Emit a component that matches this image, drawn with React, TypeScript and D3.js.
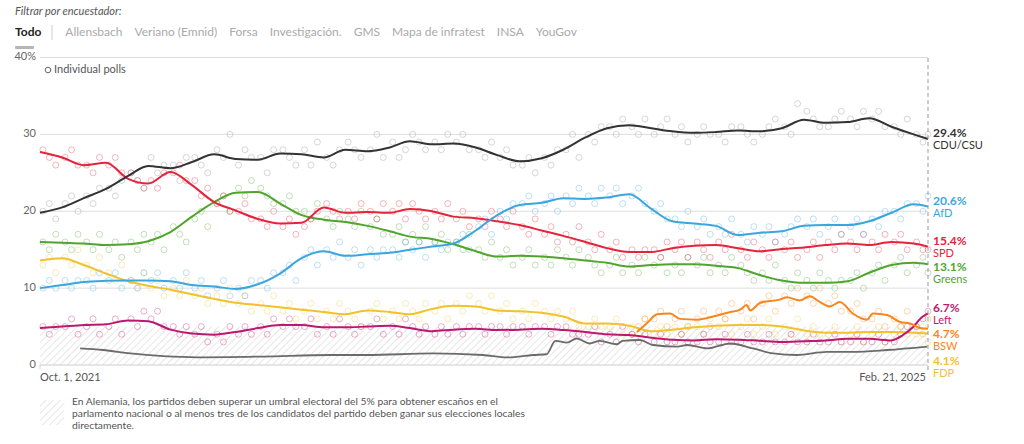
import React from 'react';
import * as d3 from 'd3';

const W = 1024;
const H = 444;
const FONT = 'Lato, "Open Sans", sans-serif';

const parseDate = d3.timeParse('%Y-%m-%d');
const startDate = parseDate('2021-10-01') as Date;
const endDate = parseDate('2025-02-21') as Date;
// Oct 2021 .. Feb 2025, one entry per month
const months = d3.timeMonth.range(startDate, parseDate('2025-03-01') as Date);

// ---- trend values, first of each month (Oct 2021 -> Feb 2025) ----
const cduTrend = [19.8, 20.5, 21.7, 22.9, 24.6, 25.9, 25.6, 26.4, 27.4, 26.8, 26.7, 27.5, 27.4, 27.0, 28.0, 27.8, 28.3, 29.1, 28.7, 28.8, 28.3, 27.3, 26.5, 26.9, 28.0, 29.6, 30.8, 31.2, 30.8, 30.4, 30.2, 30.3, 30.5, 30.4, 30.8, 31.9, 31.5, 31.6, 32.1, 31.0, 30.0];
const afdTrend = [10.0, 10.4, 10.8, 10.95, 11.0, 11.0, 10.9, 10.4, 10.2, 9.9, 10.5, 11.9, 13.9, 14.8, 14.2, 14.4, 14.6, 15.0, 15.4, 15.8, 17.5, 19.5, 20.8, 21.1, 21.7, 21.6, 21.8, 22.2, 20.3, 18.7, 18.4, 18.1, 16.9, 17.2, 17.4, 18.1, 18.2, 18.2, 18.7, 19.8, 20.9];
const spdTrend = [27.7, 27.0, 26.0, 26.3, 24.2, 23.6, 25.1, 23.4, 21.2, 20.1, 19.0, 18.4, 18.5, 20.5, 19.8, 19.9, 19.8, 20.3, 20.0, 19.3, 19.1, 18.7, 18.2, 17.5, 16.8, 16.0, 15.2, 14.7, 14.7, 15.2, 15.5, 15.6, 15.2, 14.8, 15.1, 15.3, 15.6, 15.8, 15.6, 16.0, 15.8];
const greensTrend = [16.0, 15.9, 15.8, 15.6, 15.7, 16.1, 17.3, 19.3, 21.2, 22.4, 22.5, 21.0, 19.5, 18.9, 18.6, 18.1, 17.4, 16.7, 16.4, 15.7, 14.8, 14.1, 14.2, 14.1, 13.9, 13.6, 13.3, 12.8, 13.0, 13.1, 13.1, 12.9, 12.6, 11.7, 11.0, 10.7, 10.7, 10.9, 12.0, 13.0, 13.3];
const leftTrend = [4.8, 5.0, 5.2, 5.3, 5.8, 5.7, 4.6, 4.1, 3.95, 4.3, 4.8, 5.2, 5.2, 4.9, 4.9, 5.0, 5.1, 4.8, 4.4, 4.6, 4.7, 4.55, 4.6, 4.7, 4.55, 4.3, 4.0, 3.9, 3.55, 3.3, 3.2, 3.35, 3.3, 3.15, 3.0, 3.1, 3.2, 3.4, 3.4, 3.2];
const leftTail: [string, number][] = [['2025-01-17', 3.9], ['2025-02-01', 5.0], ['2025-02-10', 6.0]];
const fdpTrend = [13.6, 13.9, 13.0, 11.9, 10.9, 10.3, 9.8, 9.2, 8.6, 8.1, 7.8, 7.5, 7.2, 6.9, 6.6, 7.1, 6.9, 6.6, 7.3, 7.7, 7.6, 7.1, 7.0, 6.8, 6.3, 5.4, 5.4, 5.1, 4.4, 4.6, 4.9, 5.1, 5.2, 5.2, 5.0, 4.5, 4.2, 4.2, 4.3, 4.3, 4.2];
const bswTrend: [string, number][] = [
  ['2024-01-12', 4.3], ['2024-01-26', 5.45], ['2024-02-09', 6.6], ['2024-02-27', 6.7], ['2024-03-12', 6.0],
  ['2024-04-05', 5.9], ['2024-04-27', 6.3], ['2024-05-17', 6.8], ['2024-06-04', 7.2], ['2024-06-13', 7.8],
  ['2024-06-18', 7.1], ['2024-07-02', 8.1], ['2024-07-29', 8.5], ['2024-08-08', 8.8], ['2024-08-26', 8.4],
  ['2024-09-09', 8.95], ['2024-09-23', 8.2], ['2024-10-07', 7.6], ['2024-10-21', 8.2], ['2024-11-08', 6.7],
  ['2024-11-28', 5.9], ['2024-12-06', 6.7], ['2024-12-26', 6.5], ['2025-01-13', 5.6], ['2025-01-27', 5.4],
  ['2025-02-10', 4.8],
];
const othersTrend: [string, number][] = [
  ['2021-11-26', 2.15], ['2021-12-28', 1.95], ['2022-02-04', 1.5], ['2022-03-22', 1.15], ['2022-05-08', 1.0],
  ['2022-08-08', 1.1], ['2022-11-10', 1.3], ['2022-12-31', 1.3], ['2023-04-02', 1.5], ['2023-06-11', 1.3],
  ['2023-07-15', 1.0], ['2023-08-20', 1.3], ['2023-09-08', 1.4], ['2023-09-20', 3.15], ['2023-10-06', 2.9],
  ['2023-10-20', 3.45], ['2023-11-07', 2.8], ['2023-11-21', 3.15], ['2023-12-15', 2.7], ['2023-12-23', 3.15],
  ['2024-01-16', 3.25], ['2024-02-03', 2.6], ['2024-03-08', 2.4], ['2024-03-22', 2.6], ['2024-04-19', 2.15],
  ['2024-05-21', 2.8], ['2024-06-22', 2.15], ['2024-07-20', 1.5], ['2024-08-22', 1.3], ['2024-10-03', 1.7],
  ['2024-11-08', 1.7], ['2024-12-26', 1.95], ['2025-02-20', 2.4],
];

// latest values (Feb. 21, 2025)
const latest = { cdu: 29.4, afd: 20.6, spd: 15.4, greens: 13.1, left: 6.7, bsw: 4.7, fdp: 4.1 };

// ---- individual polls, three per month ----
const cduPolls = [20, 21, 19, 21, 22, 20, 22, 21, 23, 23, 22, 24, 25, 24, 23, 27, 25, 26, 26, 24, 27, 27, 26, 25, 28, 27, 30, 26, 28, 27, 27, 25, 28, 28, 27, 26, 28, 26, 29, 27, 26, 28, 29, 28, 27, 28, 30, 27, 29, 27, 28, 30, 29, 28, 29, 28, 30, 29, 30, 28, 28, 27, 29, 27, 28, 26, 26, 27, 25, 27, 26, 28, 28, 30, 27, 30, 29, 31, 31, 30, 32, 31, 30, 32, 30, 31, 32, 30, 31, 29, 30, 31, 30, 30, 29, 31, 31, 30, 29, 30, 31, 32, 31, 30, 34, 33, 32, 31, 31, 32, 33, 32, 31, 33, 32, 33, 31, 31, 30, 32, 30, 29, 30];
const afdPolls = [10, 11, 10, 11, 10, 11, 11, 10, 12, 11, 12, 10, 11, 10, 12, 11, 12, 10, 11, 10, 12, 10, 11, 9, 10, 11, 9, 10, 9, 11, 11, 10, 12, 12, 13, 11, 14, 15, 13, 15, 14, 16, 14, 15, 13, 15, 14, 15, 15, 14, 16, 15, 16, 14, 16, 15, 16, 16, 17, 15, 18, 19, 17, 20, 19, 21, 21, 22, 20, 21, 22, 20, 22, 21, 23, 22, 21, 23, 22, 23, 21, 22, 23, 21, 20, 21, 19, 19, 18, 20, 18, 19, 17, 18, 17, 19, 17, 16, 18, 17, 18, 16, 17, 18, 19, 18, 19, 17, 18, 19, 17, 18, 19, 17, 19, 18, 20, 20, 19, 21, 21, 20, 22];
const spdPolls = [28, 27, 26, 27, 28, 26, 26, 25, 27, 26, 27, 25, 25, 24, 23, 24, 23, 25, 25, 26, 24, 24, 22, 23, 21, 22, 20, 20, 21, 19, 19, 18, 20, 18, 19, 17, 18, 19, 20, 21, 20, 19, 20, 19, 21, 20, 19, 21, 20, 21, 19, 21, 20, 19, 20, 19, 21, 19, 20, 18, 19, 18, 20, 19, 18, 20, 18, 17, 19, 17, 18, 16, 17, 16, 18, 16, 15, 17, 15, 16, 14, 15, 14, 15, 15, 14, 16, 15, 16, 14, 16, 15, 14, 16, 15, 17, 15, 14, 16, 15, 14, 16, 15, 16, 14, 15, 16, 14, 16, 15, 17, 16, 15, 17, 16, 15, 17, 16, 17, 15, 16, 15, 15];
const greensPolls = [16, 15, 17, 16, 15, 17, 16, 15, 17, 15, 16, 14, 16, 15, 17, 16, 17, 15, 18, 17, 16, 19, 20, 18, 21, 22, 20, 23, 22, 24, 23, 22, 21, 21, 22, 20, 20, 19, 21, 19, 18, 20, 19, 18, 20, 18, 19, 17, 17, 18, 16, 17, 16, 18, 16, 17, 15, 16, 15, 17, 15, 14, 16, 14, 15, 13, 14, 15, 13, 14, 13, 15, 14, 13, 15, 14, 13, 12, 13, 14, 12, 13, 12, 14, 13, 14, 12, 13, 12, 14, 13, 14, 12, 13, 12, 14, 13, 12, 11, 12, 11, 13, 11, 10, 12, 11, 10, 12, 11, 10, 11, 11, 12, 10, 12, 13, 11, 13, 14, 12, 13, 14, 12];
const leftPolls = [5, 4, 5, 5, 6, 4, 5, 6, 4, 5, 6, 4, 6, 5, 7, 6, 7, 5, 5, 4, 5, 4, 5, 3, 4, 3, 5, 4, 5, 4, 5, 4, 6, 5, 6, 5, 5, 6, 4, 5, 4, 6, 5, 4, 5, 5, 6, 4, 5, 4, 6, 5, 4, 5, 4, 5, 4, 5, 4, 5, 5, 4, 5, 5, 4, 5, 5, 4, 5, 5, 4, 5, 5, 4, 4, 4, 5, 3, 4, 3, 5, 4, 3, 4, 3, 4, 3, 3, 4, 3, 3, 4, 3, 3, 4, 3, 3, 4, 3, 3, 4, 3, 3, 4, 3, 3, 4, 3, 3, 4, 3, 3, 4, 3, 3, 4, 3, 3, 4, 5, 5, 6, 7];
const fdpPolls = [13, 14, 12, 14, 13, 15, 13, 12, 14, 12, 11, 13, 11, 10, 12, 10, 11, 9, 10, 9, 11, 9, 10, 8, 9, 8, 10, 8, 9, 7, 8, 7, 9, 7, 8, 6, 7, 8, 6, 7, 6, 8, 7, 6, 5, 7, 8, 6, 7, 6, 8, 7, 6, 8, 7, 8, 6, 8, 7, 9, 8, 7, 9, 7, 8, 6, 7, 6, 8, 7, 6, 7, 6, 7, 5, 5, 6, 5, 5, 6, 4, 5, 4, 6, 4, 5, 4, 5, 4, 5, 5, 4, 6, 5, 6, 4, 5, 6, 4, 5, 6, 4, 5, 4, 6, 4, 5, 4, 4, 5, 3, 4, 5, 3, 4, 5, 3, 4, 5, 4, 4, 5, 3];
// BSW from Jan 2024
const bswPolls = [4, 5, 6, 6, 7, 5, 6, 7, 5, 6, 7, 5, 7, 6, 8, 7, 8, 6, 8, 9, 7, 9, 8, 10, 9, 8, 10, 8, 9, 7, 7, 8, 6, 6, 7, 5, 6, 5, 7, 5, 4, 6];
const bswFirstMonth = 27;

const filterLabels = ['Todo', 'Allensbach', 'Veriano (Emnid)', 'Forsa', 'Investigación.', 'GMS', 'Mapa de infratest', 'INSA', 'YouGov'];
const yTicks = [0, 10, 20, 30, 40];
const noteLines = [
  'En Alemania, los partidos deben superar un umbral electoral del 5% para obtener escaños en el',
  'parlamento nacional o al menos tres de los candidatos del partido deben ganar sus elecciones locales',
  'directamente.',
];

type Pt = [Date, number];

function monthlySeries(values: number[], last: number | null, extra: [string, number][] = []): Pt[] {
  const pts: Pt[] = values.map((v, i) => [months[i], v]);
  extra.forEach(([d, v]) => pts.push([parseDate(d) as Date, v]));
  if (last !== null) pts.push([endDate, last]);
  return pts.sort((a, b) => +a[0] - +b[0]);
}

function datedSeries(values: [string, number][], last: number | null): Pt[] {
  const pts: Pt[] = values.map(([d, v]) => [parseDate(d) as Date, v]);
  if (last !== null) pts.push([endDate, last]);
  return pts;
}

function pollPoints(values: number[], firstMonth = 0): Pt[] {
  const offs = [4, 13, 22];
  return values.map((v, i) => {
    const m = months[firstMonth + Math.floor(i / 3)];
    const d = d3.timeDay.offset(m, offs[i % 3]);
    return [d > endDate ? endDate : d, v];
  });
}

const parties = [
  { key: 'cdu', name: 'CDU/CSU', color: '#333333', pollColor: '#8a8a8a', series: monthlySeries(cduTrend, latest.cdu), polls: pollPoints(cduPolls), latest: latest.cdu },
  { key: 'afd', name: 'AfD', color: '#3aa6dd', pollColor: '#3aa6dd', series: monthlySeries(afdTrend, latest.afd), polls: pollPoints(afdPolls), latest: latest.afd },
  { key: 'spd', name: 'SPD', color: '#e5233b', pollColor: '#e5233b', series: monthlySeries(spdTrend, latest.spd), polls: pollPoints(spdPolls), latest: latest.spd },
  { key: 'greens', name: 'Greens', color: '#4fa52d', pollColor: '#4fa52d', series: monthlySeries(greensTrend, latest.greens), polls: pollPoints(greensPolls), latest: latest.greens },
  { key: 'left', name: 'Left', color: '#bc1870', pollColor: '#bc1870', series: monthlySeries(leftTrend, latest.left, leftTail), polls: pollPoints(leftPolls), latest: latest.left },
  { key: 'bsw', name: 'BSW', color: '#f7861c', pollColor: '#f7861c', series: datedSeries(bswTrend, latest.bsw), polls: pollPoints(bswPolls, bswFirstMonth), latest: latest.bsw },
  { key: 'fdp', name: 'FDP', color: '#f2c12e', pollColor: '#f2c12e', series: monthlySeries(fdpTrend, latest.fdp), polls: pollPoints(fdpPolls), latest: latest.fdp },
];
const othersSeries = datedSeries(othersTrend, null);

const drawOrder = ['fdp', 'left', 'bsw', 'greens', 'spd', 'afd', 'cdu'];

function measure(text: string, font: string): number {
  const c = document.createElement('canvas').getContext('2d');
  if (!c) return text.length * 6;
  c.font = font;
  return c.measureText(text).width;
}

export default function App() {
  const x0 = 40;
  const x1 = 928;
  const x = d3.scaleTime().domain([startDate, endDate]).range([x0, x1]);
  const y = d3.scaleLinear().domain([0, 40]).range([365, 57.5]);

  const line = d3.line<Pt>()
    .x(d => x(d[0]))
    .y(d => y(d[1]))
    .curve(d3.curveMonotoneX);

  // end labels, stacked so they do not overlap
  const sorted = [...parties].sort((a, b) => b.latest - a.latest);
  let prev = -Infinity;
  const labels = sorted.map(p => {
    let yc = y(p.latest) - 5;
    if (yc < prev + 26.5) yc = prev + 26.5;
    prev = yc;
    return { ...p, yc };
  });

  // filter tabs laid out by measured width
  let tx = 15;
  const tabs = filterLabels.map((t, i) => {
    const font = `${i === 0 ? 'bold ' : ''}12px ${FONT}`;
    const pos = tx;
    tx += measure(t, font) + (i === 0 ? 24 : 12);
    return { t, x: pos };
  });

  const byKey = (k: string) => parties.find(p => p.key === k)!;

  return (
    <div style={{ position: 'absolute', left: 0, top: 0 }}>
      <svg width={W} height={H} style={{ display: 'block', fontFamily: FONT }}>
        <defs>
          <pattern id="hatch" width="5" height="5" patternUnits="userSpaceOnUse" patternTransform="rotate(45)">
            <line x1="0" y1="0" x2="0" y2="5" stroke="#d9d9d9" strokeWidth="1.3" />
          </pattern>
        </defs>
        <rect width={W} height={H} fill="#fff" />

        {/* filter header */}
        <text x={15} y={12} fontSize={11} fontStyle="italic" fill="#555" dominantBaseline="middle">Filtrar por encuestador:</text>
        {tabs.map((t, i) => (
          <text key={t.t} x={t.x} y={33} fontSize={12} fontWeight={i === 0 ? 'bold' : 'normal'}
            fill={i === 0 ? '#222' : '#aaa'} dominantBaseline="middle">{t.t}</text>
        ))}
        <line x1={52} x2={52} y1={25} y2={40} stroke="#ccc" />
        <rect x={15} y={46} width={19} height={3} rx={1} fill="#b5b5b5" />

        {/* grid */}
        {yTicks.map(t => (
          <g key={t}>
            <line x1={x0} x2={x1} y1={y(t)} y2={y(t)} stroke={t === 0 ? '#ccc' : '#dedede'} />
            <text x={36} y={y(t)} fontSize={11} fill="#666" textAnchor="end" dominantBaseline="middle">{t === 40 ? '40%' : t}</text>
          </g>
        ))}
        <rect x={x0} y={y(5)} width={x1 - x0} height={y(0) - y(5)} fill="url(#hatch)" />
        <line x1={x0} x2={x0} y1={y(0)} y2={y(0) + 4} stroke="#ccc" />

        {/* polls */}
        {drawOrder.map(k => {
          const p = byKey(k);
          return (
            <g key={k} fill="none" stroke={p.pollColor} strokeOpacity={0.34} strokeWidth={1}>
              {p.polls.map((d, i) => <circle key={i} cx={x(d[0])} cy={y(d[1])} r={3} />)}
            </g>
          );
        })}

        {/* trend lines */}
        <path d={line(othersSeries) || ''} fill="none" stroke="#6b6b6b" strokeWidth={1.8} />
        {drawOrder.map(k => {
          const p = byKey(k);
          return <path key={k} d={line(p.series) || ''} fill="none" stroke={p.color} strokeWidth={2} strokeLinejoin="round" />;
        })}

        {/* end marker */}
        <line x1={x1} x2={x1} y1={58} y2={371} stroke="#999" strokeDasharray="4,3" />

        {labels.map(l => (
          <g key={l.key}>
            <text x={933} y={l.yc} fontSize={12} fontWeight="bold" fill={l.color} dominantBaseline="middle">{l.latest.toFixed(1)}%</text>
            <text x={933} y={l.yc + 12.5} fontSize={11} fill={l.color} dominantBaseline="middle">{l.name}</text>
          </g>
        ))}

        {/* legend */}
        <circle cx={48} cy={70} r={2.8} fill="none" stroke="#666" />
        <text x={54} y={70.5} fontSize={11} fill="#555" dominantBaseline="middle">Individual polls</text>

        {/* x labels */}
        <text x={x0} y={378} fontSize={11} fill="#555" dominantBaseline="middle">Oct. 1, 2021</text>
        <text x={926} y={378} fontSize={11} fill="#555" textAnchor="end" dominantBaseline="middle">Feb. 21, 2025</text>

        {/* note */}
        <rect x={40} y={400} width={24} height={25} fill="url(#hatch)" />
        {noteLines.map((t, i) => (
          <text key={i} x={72} y={402 + i * 12} fontSize={10.3} fill="#555" dominantBaseline="middle">{t}</text>
        ))}
      </svg>
    </div>
  );
}
